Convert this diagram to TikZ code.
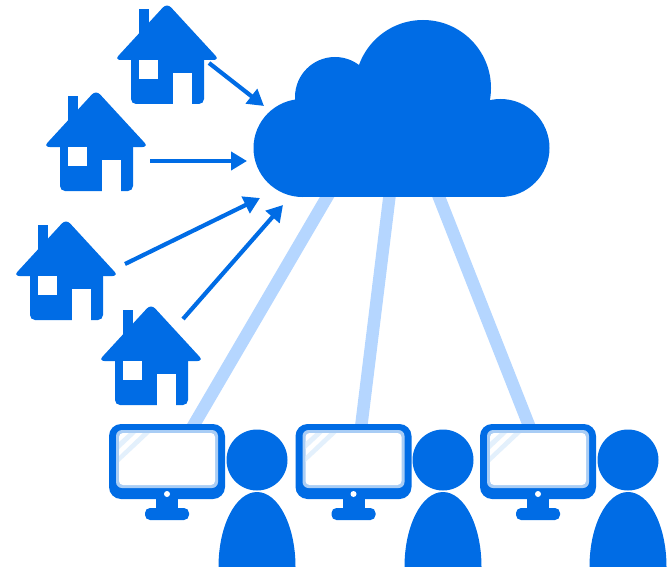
\documentclass[tikz,border=0pt]{standalone}
\usetikzlibrary{arrows.meta}
\definecolor{iconblue}{HTML}{006CE5}
\definecolor{linkblue}{HTML}{B5D6FF}
\definecolor{glareblue}{HTML}{E3F0FC}
\definecolor{rimblue}{HTML}{A9CDF5}
\tikzset{
    feed/.style={iconblue,line width=4.2pt,-{Triangle[length=16pt,width=18pt]}},
    link/.style={linkblue,line width=12.5pt},
    house/.pic={
        \fill[iconblue] (-28,4) rectangle (-18,45);
        \fill[iconblue,rounded corners=5pt] (-36,45) -- (-36,99) -- (37,99) -- (37,45) -- cycle;
        \fill[iconblue,rounded corners=6pt] (0,-2) -- (52.5,55) -- (-52.5,55) -- cycle;
        \fill[white] (-28,55) rectangle (-9,74);
        \fill[white] (6,68) rectangle (25,100);
    },
    screen/.pic={
        \fill[iconblue,rounded corners=5pt] (-22,84) rectangle (22,96);
        \fill[iconblue] (-11,70) rectangle (11,90);
        \fill[iconblue,rounded corners=12pt] (-58,0) rectangle (58,75);
        \fill[rimblue,rounded corners=6pt] (-51,6) rectangle (51,64);
        \fill[white,rounded corners=4pt] (-48,9) rectangle (48,61);
        \fill[glareblue] (-48,18) -- (-38,9) -- (-31,9) -- (-48,25) -- cycle;
        \fill[glareblue] (-48,32) -- (-24,9) -- (-17,9) -- (-48,38) -- cycle;
        \fill[white] (0,70) circle (3);
    },
    person/.pic={
        \fill[iconblue] (0,0) circle (30.5);
        \fill[iconblue] (-38.5,107) arc[start angle=180,end angle=360,x radius=38.5,y radius=75] -- cycle;
    }
}
\begin{document}
\begin{tikzpicture}[x=1pt,y=-1pt]
    \useasboundingbox (0,0) rectangle (669,567);
    % links
    \coordinate (cloudA) at (330,192);
    \coordinate (cloudB) at (390,192);
    \coordinate (cloudC) at (437,192);
    \coordinate (screenA) at (192,428);
    \coordinate (screenB) at (361,428);
    \coordinate (screenC) at (530,428);
    \draw[link] (cloudA) -- (screenA);
    \draw[link] (cloudB) -- (screenB);
    \draw[link] (cloudC) -- (screenC);
    % cloud
    \fill[iconblue] (302.5,148) circle (49);
    \fill[iconblue] (500.5,148) circle (49);
    \fill[iconblue] (423,88) circle (68);
    \fill[iconblue] (335,97) circle (40);
    \fill[iconblue] (302,110) rectangle (500,197);
    % houses
    \pic (houseA) at (167,5) {house};
    \pic (houseB) at (96,92) {house};
    \pic (houseC) at (66,221) {house};
    \pic (houseD) at (151,306) {house};
    % arrows
    \coordinate (startA) at (209,63);
    \coordinate (endA) at (264,106);
    \coordinate (startB) at (150,161);
    \coordinate (endB) at (247,161);
    \coordinate (startC) at (125,264);
    \coordinate (endC) at (260,198);
    \coordinate (startD) at (183,319);
    \coordinate (endD) at (283,205);
    \draw[feed] (startA) -- (endA);
    \draw[feed] (startB) -- (endB);
    \draw[feed] (startC) -- (endC);
    \draw[feed] (startD) -- (endD);
    % desks
    \pic (screenOne) at (167,424) {screen};
    \pic (screenTwo) at (353.5,424) {screen};
    \pic (screenThree) at (538,424) {screen};
    \pic (personOne) at (257,460) {person};
    \pic (personTwo) at (443,460) {person};
    \pic (personThree) at (628,460) {person};
\end{tikzpicture}
\end{document}
